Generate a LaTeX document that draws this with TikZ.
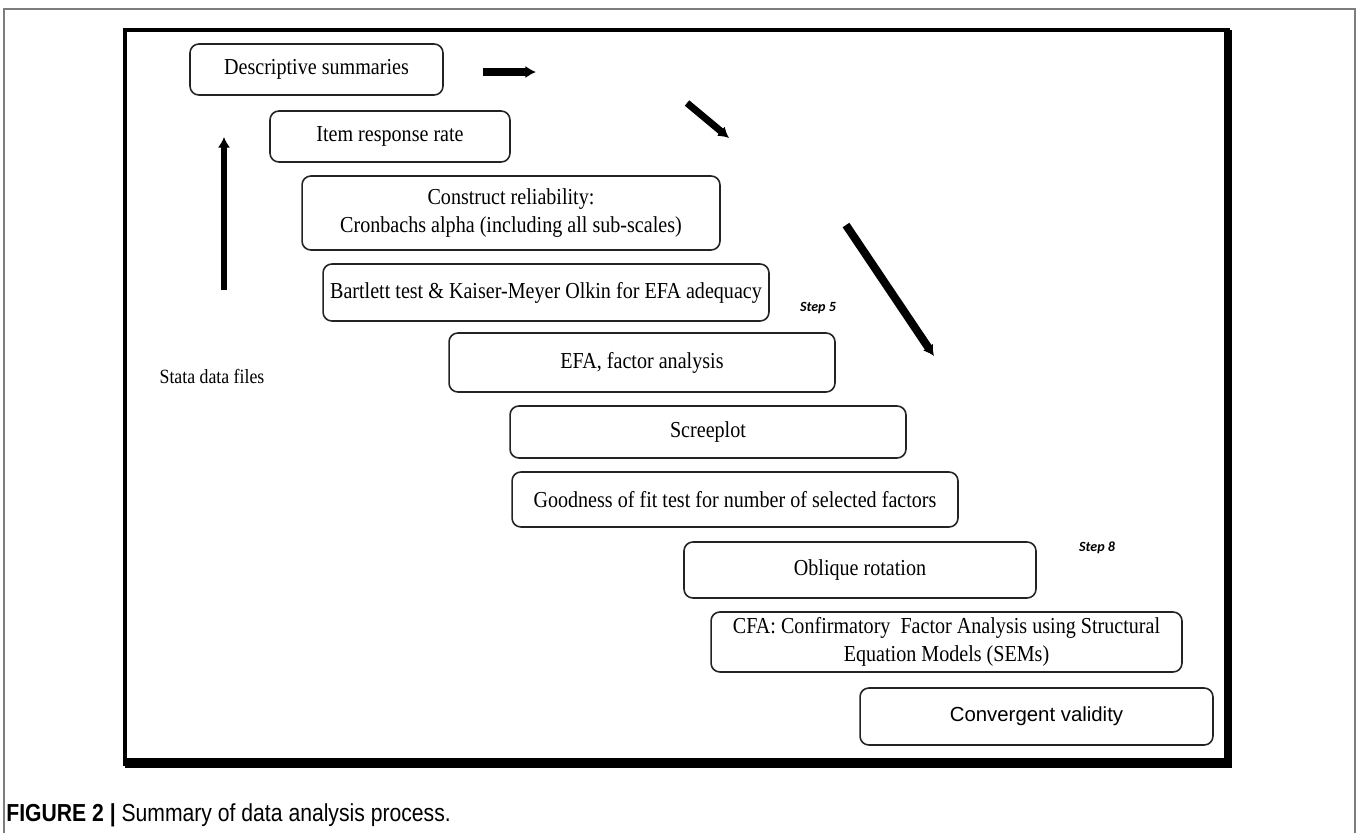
\documentclass[tikz,border=0pt]{standalone}
\usepackage{fontspec}
\setmainfont[FakeStretch=0.88]{Liberation Serif}
\newfontfamily\arialfont{Liberation Sans}
\newfontfamily\captionfont[FakeStretch=0.86]{Liberation Sans}
\newfontfamily\calibrifont{Carlito}
\usepackage{tikz}
\usetikzlibrary{arrows.meta, positioning}
\definecolor{frame}{RGB}{125,125,125}
\definecolor{boxline}{RGB}{35,35,35}
\tikzstyle{process} = [rectangle, rounded corners=5pt,
line width=0.9pt, inner sep=0pt, align=center,
draw=boxline, fill=white, font=\fontsize{13}{16}\selectfont]
\tikzstyle{arrow} = [line width=4pt, -{Latex[length=6pt,width=7pt]}]
\tikzstyle{steplabel} = [font=\calibrifont\bfseries\itshape\fontsize{8}{9}\selectfont]

\begin{document}
\begin{tikzpicture}[x=0.02cm, y=-0.02cm]
    \useasboundingbox (0,0) rectangle (1357,833);
    % figure frame and caption
    \draw [frame, line width=0.9pt] (4,833) -- (4,9) -- (1355,9) -- (1355,833);
    \node (caption) [anchor=west, inner sep=0pt,
        font=\captionfont\fontsize{14}{16}\selectfont] at (6,815)
        {\textbf{FIGURE 2 |} Summary of data analysis process.};
    % inner frame with heavy right and bottom edge
    \draw [line width=1.8pt] (125,30) rectangle (1228,764);
    \fill (1224,30) rectangle (1232,768);
    \fill (125,758) rectangle (1232,768);

    \node (desc) [process, minimum width=5.06cm, minimum height=1.02cm]
        at (316.5,69.5) {Descriptive summaries};
    \node (item) [process, minimum width=4.8cm, minimum height=1.02cm]
        at (390,136.5) {Item response rate};
    \node (reliab) [process, minimum width=8.36cm, minimum height=1.48cm]
        at (511,213) {Construct reliability:\\ Cronbachs alpha (including all sub-scales)};
    \node (kmo) [process, minimum width=8.92cm, minimum height=1.14cm]
        at (546,292.5) {Bartlett test \& Kaiser-Meyer Olkin for EFA adequacy};
    \node (efa) [process, minimum width=7.72cm, minimum height=1.18cm]
        at (642,362.5) {EFA, factor analysis};
    \node (scree) [process, minimum width=7.92cm, minimum height=1.04cm]
        at (708,432) {Screeplot};
    \node (gof) [process, minimum width=8.92cm, minimum height=1.1cm]
        at (735,499.5) {Goodness of fit test for number of selected factors};
    \node (oblique) [process, minimum width=7.04cm, minimum height=1.12cm]
        at (860,570) {Oblique rotation};
    \node (cfa) [process, minimum width=9.42cm, minimum height=1.2cm]
        at (946.5,642) {CFA: Confirmatory\ \ Factor Analysis using Structural\\ Equation Models (SEMs)};
    \node (conv) [process, minimum width=7.06cm, minimum height=1.14cm,
        font=\arialfont\fontsize{11.6}{14}\selectfont]
        at (1036.5,716.5) {Convergent validity};

    \node (step5) [steplabel] at (818,308) {Step 5};
    \node (step8) [steplabel] at (1097,548) {Step 8};
    \node (stata) [font=\fontsize{11.5}{14}\selectfont] at (212,376) {Stata data files};

    % free-standing arrows
    \coordinate (up1) at (224,290);
    \coordinate (up2) at (224,137);
    \coordinate (rt1) at (483,72);
    \coordinate (rt2) at (536,72);
    \coordinate (dg1) at (687,103);
    \coordinate (dg2) at (729,138);
    \coordinate (dg3) at (846,225);
    \coordinate (dg4) at (934,356);

    \draw [arrow, line width=3.4pt] (up1) -- (up2);
    \draw [arrow] (rt1) -- (rt2);
    \draw [arrow] (dg1) -- (dg2);
    \draw [arrow, line width=4.6pt] (dg3) -- (dg4);
\end{tikzpicture}
\end{document}
